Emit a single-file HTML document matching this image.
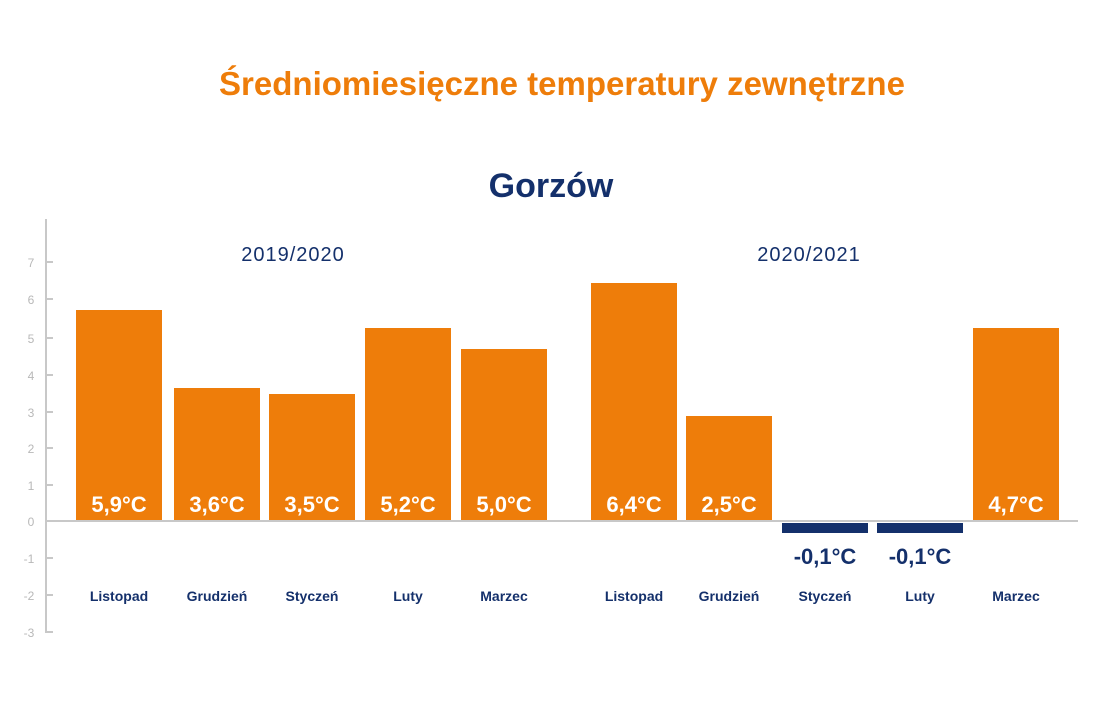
<!DOCTYPE html>
<html><head><meta charset="utf-8"><style>
html,body{margin:0;padding:0;background:#fff;}
svg{display:block;}
</style></head><body>
<svg width="1100" height="716" viewBox="0 0 1100 716" xmlns="http://www.w3.org/2000/svg" font-family="Liberation Sans, DejaVu Sans, sans-serif">
<text x="562" y="95" text-anchor="middle" font-size="33" font-weight="bold" fill="#ee7d0a">Średniomiesięczne temperatury zewnętrzne</text>
<text x="551" y="197" text-anchor="middle" font-size="34" font-weight="bold" fill="#14306b">Gorzów</text>
<text x="293" y="261" text-anchor="middle" font-size="20" fill="#14306b" letter-spacing="1">2019/2020</text>
<text x="809" y="261" text-anchor="middle" font-size="20" fill="#14306b" letter-spacing="1">2020/2021</text>
<g stroke="#c8c8c8" stroke-width="2">
<line x1="46" y1="219" x2="46" y2="633"/>
<line x1="46" y1="262" x2="53" y2="262"/>
<line x1="46" y1="299" x2="53" y2="299"/>
<line x1="46" y1="338" x2="53" y2="338"/>
<line x1="46" y1="375" x2="53" y2="375"/>
<line x1="46" y1="412" x2="53" y2="412"/>
<line x1="46" y1="448" x2="53" y2="448"/>
<line x1="46" y1="485" x2="53" y2="485"/>
<line x1="46" y1="595" x2="53" y2="595"/>
<line x1="46" y1="558" x2="53" y2="558"/>
<line x1="46" y1="632" x2="53" y2="632"/>
</g>
<g font-size="12" fill="#b8b8b8" text-anchor="middle">
<text x="31" y="267">7</text><text x="31" y="304">6</text><text x="31" y="343">5</text><text x="31" y="380">4</text><text x="31" y="417">3</text><text x="31" y="453">2</text><text x="31" y="490">1</text><text x="31" y="526">0</text><text x="29" y="563">-1</text><text x="29" y="600">-2</text><text x="29" y="637">-3</text>
</g>
<g fill="#ee7d0a">
<rect x="76" y="310" width="86" height="211"/>
<rect x="174" y="388" width="86" height="133"/>
<rect x="269" y="394" width="86" height="127"/>
<rect x="365" y="328" width="86" height="193"/>
<rect x="461" y="349" width="86" height="172"/>
<rect x="591" y="283" width="86" height="238"/>
<rect x="686" y="416" width="86" height="105"/>
<rect x="973" y="328" width="86" height="193"/>
</g>
<g fill="#14306b">
<rect x="782" y="523" width="86" height="10"/>
<rect x="877" y="523" width="86" height="10"/>
</g>
<line x1="46" y1="521" x2="1078" y2="521" stroke="#c8c8c8" stroke-width="2"/>
<g font-size="22" font-weight="bold" fill="#fff" text-anchor="middle">
<text x="119" y="512">5,9°C</text><text x="217" y="512">3,6°C</text><text x="312" y="512">3,5°C</text><text x="408" y="512">5,2°C</text><text x="504" y="512">5,0°C</text><text x="634" y="512">6,4°C</text><text x="729" y="512">2,5°C</text><text x="1016" y="512">4,7°C</text>
</g>
<g font-size="22" font-weight="bold" fill="#14306b" text-anchor="middle">
<text x="825" y="564">-0,1°C</text><text x="920" y="564">-0,1°C</text>
</g>
<g font-size="14" font-weight="bold" fill="#14306b" text-anchor="middle">
<text x="119" y="601">Listopad</text><text x="217" y="601">Grudzień</text><text x="312" y="601">Styczeń</text><text x="408" y="601">Luty</text><text x="504" y="601">Marzec</text>
<text x="634" y="601">Listopad</text><text x="729" y="601">Grudzień</text><text x="825" y="601">Styczeń</text><text x="920" y="601">Luty</text><text x="1016" y="601">Marzec</text>
</g>
</svg>
</body></html>
